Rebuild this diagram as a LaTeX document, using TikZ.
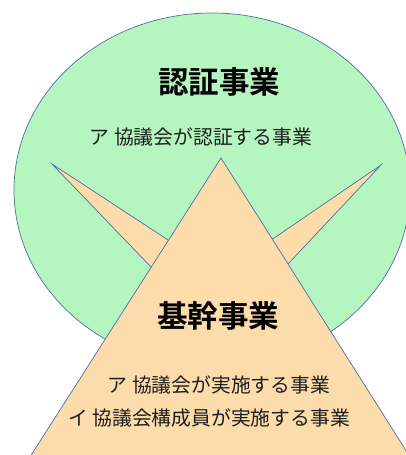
\documentclass[tikz,border=0pt]{standalone}
\usepackage{fontspec}
\setmainfont{Noto Sans CJK JP}[BoldFont={Noto Sans CJK JP Bold}]
\definecolor{lgreen}{RGB}{181,246,192}
\definecolor{lorange}{RGB}{253,220,172}
\definecolor{edgeblue}{RGB}{80,110,160}
\tikzset{
  shapeline/.style={draw=edgeblue, line width=0.7pt, line join=miter},
  title/.style={font=\fontsize{30.5}{33}\selectfont\bfseries, text=black, inner sep=0pt},
  body/.style={font=\fontsize{19.8}{23}\selectfont, text={rgb,255:red,30;green,30;blue,30}, inner sep=0pt},
}
\begin{document}
\begin{tikzpicture}[x=1pt,y=-1pt]
\useasboundingbox (0,0) rectangle (406,455);
\begin{scope}
\clip (0,0) rectangle (406,455);
% ellipse
\draw[shapeline, fill=lgreen] (212,190) ellipse [x radius=198, y radius=177];
% side spikes
\draw[shapeline, fill=lorange] (52,164) -- (220,274) -- (200,318) -- cycle;
\draw[shapeline, fill=lorange] (381,165) -- (220,275) -- (240,315) -- cycle;
% main triangle
\draw[shapeline, fill=lorange] (221,158) -- (412,460) -- (28,460) -- cycle;
\end{scope}
\node[title] (t1) at (219,82) {認証事業};
\node[body] (b1) at (201,137) {ア 協議会が認証する事業};
\node[title] (t2) at (218,316) {基幹事業};
\node[body] (b2) at (219,385) {ア 協議会が実施する事業};
\node[body] (b3) at (209,418) {イ 協議会構成員が実施する事業};
\end{tikzpicture}
\end{document}
